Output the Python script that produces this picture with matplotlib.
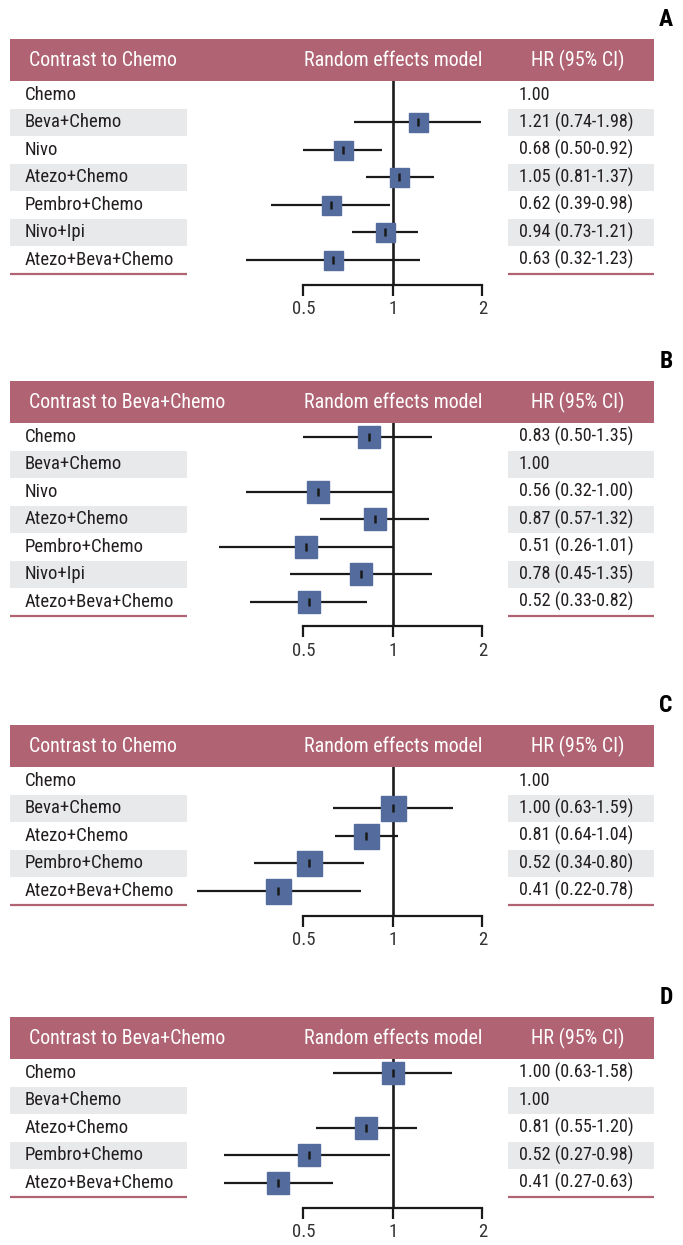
import matplotlib
matplotlib.use("Agg")
import matplotlib.pyplot as plt
from matplotlib.patches import Rectangle

plt.rcParams['font.family'] = ['Roboto Condensed', 'Roboto', 'DejaVu Sans']

# ---- data ----
panel_letters = ['A', 'B', 'C', 'D']
panel_titles = ['Contrast to Chemo', 'Contrast to Beva+Chemo',
                'Contrast to Chemo', 'Contrast to Beva+Chemo']

treat_a = ['Chemo', 'Beva+Chemo', 'Nivo', 'Atezo+Chemo', 'Pembro+Chemo',
           'Nivo+Ipi', 'Atezo+Beva+Chemo']
hr_a = [1.00, 1.21, 0.68, 1.05, 0.62, 0.94, 0.63]
lo_a = [None, 0.74, 0.50, 0.81, 0.39, 0.73, 0.32]
hi_a = [None, 1.98, 0.92, 1.37, 0.98, 1.21, 1.23]

treat_b = ['Chemo', 'Beva+Chemo', 'Nivo', 'Atezo+Chemo', 'Pembro+Chemo',
           'Nivo+Ipi', 'Atezo+Beva+Chemo']
hr_b = [0.83, 1.00, 0.56, 0.87, 0.51, 0.78, 0.52]
lo_b = [0.50, None, 0.32, 0.57, 0.26, 0.45, 0.33]
hi_b = [1.35, None, 1.00, 1.32, 1.01, 1.35, 0.82]

treat_c = ['Chemo', 'Beva+Chemo', 'Atezo+Chemo', 'Pembro+Chemo', 'Atezo+Beva+Chemo']
hr_c = [1.00, 1.00, 0.81, 0.52, 0.41]
lo_c = [None, 0.63, 0.64, 0.34, 0.22]
hi_c = [None, 1.59, 1.04, 0.80, 0.78]

treat_d = ['Chemo', 'Beva+Chemo', 'Atezo+Chemo', 'Pembro+Chemo', 'Atezo+Beva+Chemo']
hr_d = [1.00, 1.00, 0.81, 0.52, 0.41]
lo_d = [0.63, None, 0.55, 0.27, 0.27]
hi_d = [1.58, None, 1.20, 0.98, 0.63]

tick_vals = [0.5, 1, 2]
tick_labels = ['0.5', '1', '2']

panels = [(treat_a, hr_a, lo_a, hi_a), (treat_b, hr_b, lo_b, hi_b),
          (treat_c, hr_c, lo_c, hi_c), (treat_d, hr_d, lo_d, hi_d)]

# ---- styling / layout (pixels) ----
W, H = 683, 1245
header_col = '#b06372'
band_col = '#e8e9eb'
box_col = '#546b9e'
text_col = '#231f20'
panel_tops = [39, 381, 725, 1017]
marker_px = [19, 22, 25, 22]
header_h = 42
row_h = 27.5
left, right = 10, 654
left_band_end = 187
right_band_start = 508
x_one, px_per_doubling = 393, 89.5

fig = plt.figure(figsize=(W / 100, H / 100), dpi=100)
bg = fig.add_axes([0, 0, 1, 1])
bg.set_xlim(0, W)
bg.set_ylim(H, 0)
bg.axis('off')

for k, (names, hr, lo, hi) in enumerate(panels):
    top = panel_tops[k]
    n = len(names)
    hb = top + header_h
    # header bar
    bg.add_patch(Rectangle((left, top), right - left, header_h, color=header_col, lw=0))
    yc = top + header_h / 2
    bg.text(29, yc, panel_titles[k], color='white', fontsize=14.4, va='center', ha='left')
    bg.text(x_one, yc, 'Random effects model', color='white', fontsize=14.4,
            va='center', ha='center')
    bg.text(578, yc, 'HR (95% CI)', color='white', fontsize=14.4, va='center', ha='center')
    bg.text(666, top - 19, panel_letters[k], fontsize=17, fontweight='bold',
            va='center', ha='center', color='black')

    for i, name in enumerate(names):
        y0 = hb + i * row_h
        if i % 2 == 1:
            bg.add_patch(Rectangle((left, y0), left_band_end - left, row_h, color=band_col, lw=0))
            bg.add_patch(Rectangle((right_band_start, y0), right - right_band_start, row_h,
                                   color=band_col, lw=0))
        bg.text(25, y0 + row_h / 2, name, fontsize=13.5, color=text_col, va='center', ha='left')
        if lo[i] is None:
            txt = f'{hr[i]:.2f}'
        else:
            txt = f'{hr[i]:.2f} ({lo[i]:.2f}-{hi[i]:.2f})'
        bg.text(519, y0 + row_h / 2, txt, fontsize=13.1, color=text_col,
                va='center', ha='left')

    yb = hb + n * row_h
    bg.plot([left, left_band_end], [yb, yb], color=header_col, lw=1.6, solid_capstyle='butt')
    bg.plot([right_band_start, right], [yb, yb], color=header_col, lw=1.6, solid_capstyle='butt')

    # forest plot axes on a log2 scale
    axis_y = yb + 11
    ax = fig.add_axes([left / W, 1 - axis_y / H, (right - left) / W, (axis_y - hb) / H])
    ax.patch.set_alpha(0)
    ax.set_xscale('log', base=2)
    ax.set_xlim(2 ** ((left - x_one) / px_per_doubling), 2 ** ((right - x_one) / px_per_doubling))
    ax.set_ylim(n - 0.1, -0.5)
    for s in ['top', 'left', 'right']:
        ax.spines[s].set_visible(False)
    ax.spines['bottom'].set_bounds(tick_vals[0], tick_vals[-1])
    ax.spines['bottom'].set_linewidth(1.6)
    ax.spines['bottom'].set_color('#1a1a1a')
    ax.set_yticks([])
    ax.set_xticks(tick_vals)
    ax.set_xticklabels(tick_labels)
    ax.minorticks_off()
    ax.tick_params(axis='x', direction='out', length=8, width=1.6, color='#1a1a1a',
                   labelsize=13.5, labelcolor='#333333', pad=3)
    ax.axvline(1, color='#1a1a1a', lw=1.9, zorder=1)

    ms = marker_px[k] * 72 / 100
    for i in range(n):
        if lo[i] is None:
            continue
        ax.plot([lo[i], hi[i]], [i, i], color='#1a1a1a', lw=1.6, zorder=2,
                solid_capstyle='butt')
        ax.plot(hr[i], i, marker='s', ms=ms, color=box_col, mec=box_col, zorder=3)
        ax.plot(hr[i], i, marker='|', ms=6, mew=1.8, color='#1a1a1a', zorder=4)

fig.savefig('out.png', dpi=100)
